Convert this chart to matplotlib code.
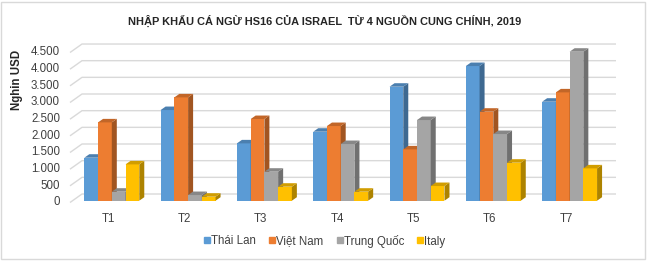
import matplotlib
matplotlib.use("Agg")
import matplotlib.pyplot as plt
import matplotlib.transforms as mtransforms
from matplotlib.lines import Line2D
from matplotlib.patches import Rectangle
import matplotlib.colors as mcolors

# ---- data ----
months = ['T1', 'T2', 'T3', 'T4', 'T5', 'T6', 'T7']
series_names = ['Thái Lan', 'Việt Nam', 'Trung Quốc', 'Italy']
thai_lan = [1290, 2720, 1720, 2070, 3420, 4040, 2970]
viet_nam = [2350, 3100, 2450, 2240, 1540, 2670, 3250]
trung_quoc = [270, 170, 870, 1700, 2420, 2000, 4470]
italy = [1090, 120, 420, 270, 440, 1140, 970]
yticks = [0, 500, 1000, 1500, 2000, 2500, 3000, 3500, 4000, 4500]
ytick_labels = ['0', '500', '1.000', '1.500', '2.000', '2.500', '3.000', '3.500', '4.000', '4.500']

colors = ['#5B9BD5', '#ED7D31', '#A5A5A5', '#FFC000']

plt.rcParams['font.family'] = ['Liberation Sans', 'DejaVu Sans']

W, H = 650, 261
fig = plt.figure(figsize=(W / 100, H / 100), dpi=100)

# axes geometry in pixels
L_px, R_px, T_px, B_px = 60, 620, 40, 205
ax = fig.add_axes([L_px / W, 1 - B_px / H, (R_px - L_px) / W, (B_px - T_px) / H])
cx0, step = 111.8, 76.3
base_y, ppv = 200.7, 0.03333
ax.set_xlim((L_px - cx0) / step, (R_px - cx0) / step)
ax.set_ylim((base_y - B_px) / ppv, (base_y - T_px) / ppv)
for s in ax.spines.values():
    s.set_visible(False)

# 3D depth constants (data units)
DX, DY = 5 / step, 3.5 / ppv
WALL_DX_FRONT, WALL_DX_BACK = (70 - cx0) / step, (82 - cx0) / step
WALL_END = (616 - cx0) / step
FRONT_OFF, BACK_OFF = -1.8 / ppv, 6.7 / ppv

grid_c = '#D9D9D9'
for v in yticks:
    ax.plot([WALL_DX_FRONT, WALL_DX_BACK, WALL_END],
            [v + FRONT_OFF, v + BACK_OFF, v + BACK_OFF],
            color=grid_c, lw=1.0, zorder=0, solid_capstyle='butt')

def shade(c, f):
    r, g, b = mcolors.to_rgb(c)
    return (r * f, g * f, b * f)

bw = 0.18
data = [thai_lan, viet_nam, trung_quoc, italy]
for i in range(len(months)):
    for j, vals in enumerate(data):
        v = vals[i]
        x0 = i - 2 * bw + j * bw
        x1 = x0 + bw
        z = 2 + j * 3
        ax.bar(x0, v, width=bw, align='edge', color=colors[j], lw=0, zorder=z)
        # side face
        ax.fill([x1, x1 + DX, x1 + DX, x1], [0, DY, v + DY, v],
                color=shade(colors[j], 0.68), lw=0, zorder=z + 1)
        # top face
        ax.fill([x0, x1, x1 + DX, x0 + DX], [v, v, v + DY, v + DY],
                color=shade(colors[j], 0.82), lw=0, zorder=z + 2)

ax.set_yticks(yticks)
ax.set_yticklabels(ytick_labels, fontsize=8.3, color='#404040')
ax.tick_params(axis='y', length=0, pad=0)
ax.set_xticks(range(len(months)))
ax.set_xticklabels(months, fontsize=8.3, color='#404040')
ax.tick_params(axis='x', length=0, pad=6)
off = mtransforms.ScaledTranslation(-3.5 / 100, 0, fig.dpi_scale_trans)
for lab in ax.get_xticklabels():
    lab.set_transform(lab.get_transform() + off)

title = 'NHẬP KHẨU CÁ NGỪ HS16 CỦA ISRAEL  TỪ 4 NGUỒN CUNG CHÍNH, 2019'
fig.text(325 / W, 1 - 21 / H, title, ha='center', va='center', fontsize=7.9,
         fontweight='bold', color='#262626')
fig.text(17 / W, 1 - 80 / H, 'Nghin USD', rotation=90, ha='center', va='center',
         fontsize=8.3, fontweight='bold', color='#262626')

handles = [Line2D([], [], marker='s', ls='none', color=c, markersize=4.0) for c in colors]
fig.legend(handles, series_names, loc='center', bbox_to_anchor=(325 / W, 1 - 241 / H),
           ncol=4, frameon=False, fontsize=8.3, handlelength=0.45, handletextpad=0.15,
           columnspacing=1.15, labelcolor='#404040', borderpad=0)

fig.patches.append(Rectangle((1 / W, 2 / H), 644 / W, 257 / H, transform=fig.transFigure,
                             fill=False, edgecolor='#D9D9D9', lw=1))

fig.savefig('out.png', dpi=100)
